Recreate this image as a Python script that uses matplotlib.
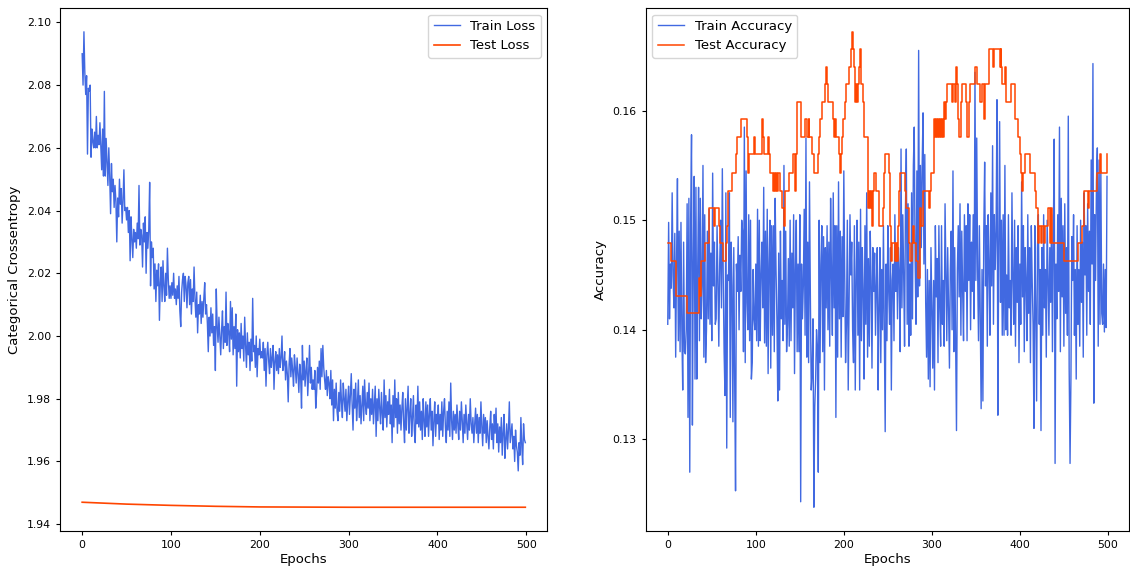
import matplotlib
matplotlib.use("Agg")
import matplotlib.pyplot as plt
import numpy as np

# ---------------- data ----------------
epochs = np.arange(500)

train_loss = [
    2.090, 2.080, 2.097, 2.084, 2.077, 2.083, 2.058, 2.079, 2.078, 2.080, 2.057, 2.066, 2.062, 2.060, 2.065, 2.060, 2.070, 2.060, 2.064, 2.061,
    2.068, 2.060, 2.053, 2.066, 2.051, 2.078, 2.051, 2.063, 2.055, 2.048, 2.060, 2.051, 2.039, 2.055, 2.046, 2.050, 2.041, 2.048, 2.043, 2.030,
    2.044, 2.038, 2.050, 2.042, 2.047, 2.036, 2.043, 2.053, 2.040, 2.041, 2.037, 2.041, 2.033, 2.040, 2.024, 2.038, 2.031, 2.025, 2.034, 2.030,
    2.033, 2.028, 2.036, 2.031, 2.048, 2.029, 2.034, 2.032, 2.022, 2.036, 2.030, 2.038, 2.020, 2.033, 2.028, 2.034, 2.049, 2.016, 2.030, 2.025,
    2.028, 2.015, 2.023, 2.011, 2.021, 2.016, 2.023, 2.005, 2.017, 2.022, 2.011, 2.024, 2.016, 2.011, 2.020, 2.013, 2.028, 2.018, 2.012, 2.016,
    2.012, 2.017, 2.013, 2.020, 2.012, 2.015, 2.010, 2.016, 2.012, 2.019, 2.008, 2.003, 2.014, 2.018, 2.020, 2.011, 2.019, 2.016, 2.009, 2.017,
    2.019, 2.010, 2.018, 2.007, 2.015, 2.011, 2.022, 2.012, 2.006, 2.014, 2.001, 2.010, 2.007, 2.013, 2.004, 2.011, 2.006, 2.012, 2.017, 2.007,
    2.010, 2.004, 1.995, 2.006, 2.000, 2.009, 2.001, 2.007, 1.997, 2.003, 1.989, 2.015, 2.003, 1.998, 2.006, 2.000, 1.994, 2.002, 2.008, 1.996,
    2.003, 1.998, 2.014, 1.997, 2.004, 2.001, 1.995, 2.011, 1.999, 2.009, 1.994, 2.003, 1.996, 2.007, 1.984, 2.002, 1.995, 2.001, 1.993, 2.004,
    1.996, 2.000, 1.992, 2.006, 1.997, 1.990, 2.001, 1.994, 1.998, 1.989, 1.999, 1.992, 2.012, 1.995, 1.997, 1.990, 2.000, 1.987, 1.996, 1.994,
    1.999, 1.993, 1.995, 1.993, 1.998, 1.989, 1.996, 1.984, 1.994, 1.998, 1.992, 1.988, 1.996, 1.990, 1.993, 1.997, 1.983, 1.992, 1.995, 1.989,
    1.994, 1.988, 1.996, 1.990, 1.993, 2.000, 1.989, 1.991, 1.995, 1.986, 1.992, 1.988, 1.979, 1.991, 1.996, 1.987, 1.993, 1.989, 1.984, 1.994,
    1.990, 1.985, 1.993, 1.988, 1.982, 1.991, 1.987, 1.977, 1.997, 1.986, 1.992, 1.984, 1.989, 1.993, 1.981, 1.988, 1.997, 1.985, 1.990, 1.983,
    1.986, 1.983, 1.989, 1.977, 1.982, 1.990, 1.985, 1.992, 1.983, 1.996, 1.987, 1.997, 1.990, 1.986, 1.983, 1.989, 1.981, 1.987, 1.985, 1.980,
    1.989, 1.978, 1.986, 1.973, 1.983, 1.977, 1.985, 1.976, 1.973, 1.982, 1.976, 1.986, 1.979, 1.974, 1.985, 1.980, 1.976, 1.983, 1.973, 1.979,
    1.984, 1.975, 1.981, 1.988, 1.978, 1.970, 1.983, 1.977, 1.985, 1.973, 1.979, 1.986, 1.974, 1.981, 1.972, 1.978, 1.984, 1.973, 1.986, 1.978,
    1.975, 1.982, 1.977, 1.985, 1.973, 1.980, 1.975, 1.983, 1.972, 1.978, 1.984, 1.968, 1.980, 1.973, 1.983, 1.977, 1.972, 1.982, 1.975, 1.970,
    1.986, 1.974, 1.981, 1.971, 1.979, 1.975, 1.983, 1.972, 1.978, 1.966, 1.981, 1.971, 1.986, 1.974, 1.980, 1.969, 1.982, 1.972, 1.978, 1.970,
    1.977, 1.982, 1.972, 1.966, 1.980, 1.970, 1.977, 1.984, 1.969, 1.975, 1.980, 1.968, 1.974, 1.981, 1.970, 1.966, 1.978, 1.972, 1.984, 1.971,
    1.979, 1.970, 1.976, 1.967, 1.980, 1.973, 1.968, 1.979, 1.971, 1.978, 1.968, 1.975, 1.980, 1.970, 1.976, 1.965, 1.973, 1.979, 1.968, 1.975,
    1.972, 1.978, 1.967, 1.975, 1.970, 1.979, 1.968, 1.976, 1.980, 1.971, 1.966, 1.976, 1.970, 1.979, 1.968, 1.985, 1.973, 1.967, 1.976, 1.970,
    1.975, 1.969, 1.978, 1.972, 1.967, 1.976, 1.970, 1.979, 1.973, 1.966, 1.975, 1.969, 1.978, 1.972, 1.967, 1.975, 1.970, 1.980, 1.972, 1.969,
    1.974, 1.966, 1.972, 1.977, 1.969, 1.975, 1.966, 1.974, 1.969, 1.979, 1.971, 1.965, 1.975, 1.969, 1.974, 1.966, 1.973, 1.968, 1.964, 1.971,
    1.976, 1.967, 1.972, 1.964, 1.975, 1.969, 1.977, 1.966, 1.972, 1.963, 1.971, 1.966, 1.974, 1.962, 1.969, 1.975, 1.961, 1.967, 1.972, 1.964,
    1.970, 1.979, 1.966, 1.969, 1.972, 1.964, 1.968, 1.960, 1.970, 1.965, 1.963, 1.957, 1.966, 1.962, 1.974, 1.965, 1.959, 1.972, 1.967, 1.966,
]

# test loss is a smooth curve, sampled at a few epochs
test_loss_epochs = [0, 25, 50, 75, 100, 150, 200, 250, 300, 350, 400, 450, 499]
test_loss = [1.9470, 1.9467, 1.9464, 1.9462, 1.9460, 1.9457, 1.9455, 1.94545,
             1.9454, 1.9454, 1.9454, 1.9454, 1.9454]

train_acc = [
    0.1405, 0.1498, 0.1410, 0.1460, 0.1438, 0.1525, 0.1450, 0.1420, 0.1488, 0.1375, 0.1462, 0.1538, 0.1390, 0.1490, 0.1380, 0.1498, 0.1400, 0.1345, 0.1480, 0.1380,
    0.1378, 0.1400, 0.1515, 0.1320, 0.1520, 0.1270, 0.1500, 0.1578, 0.1313, 0.1460, 0.1540, 0.1355, 0.1530, 0.1355, 0.1455, 0.1530, 0.1390, 0.1520, 0.1410, 0.1440,
    0.1550, 0.1375, 0.1505, 0.1370, 0.1400, 0.1490, 0.1410, 0.1510, 0.1405, 0.1470, 0.1390, 0.1543, 0.1440, 0.1480, 0.1405, 0.1410, 0.1495, 0.1445, 0.1385, 0.1460,
    0.1500, 0.1420, 0.1547, 0.1450, 0.1380, 0.1340, 0.1525, 0.1292, 0.1450, 0.1445, 0.1525, 0.1320, 0.1480, 0.1440, 0.1316, 0.1475, 0.1356, 0.1253, 0.1460, 0.1435,
    0.1485, 0.1400, 0.1468, 0.1435, 0.1500, 0.1490, 0.1380, 0.1585, 0.1370, 0.1545, 0.1425, 0.1400, 0.1505, 0.1390, 0.1500, 0.1355, 0.1370, 0.1455, 0.1410, 0.1400,
    0.1460, 0.1390, 0.1510, 0.1385, 0.1500, 0.1390, 0.1450, 0.1480, 0.1420, 0.1530, 0.1388, 0.1490, 0.1385, 0.1510, 0.1360, 0.1460, 0.1500, 0.1365, 0.1495, 0.1395,
    0.1495, 0.1380, 0.1520, 0.1455, 0.1410, 0.1335, 0.1470, 0.1345, 0.1490, 0.1410, 0.1445, 0.1390, 0.1550, 0.1405, 0.1490, 0.1380, 0.1405, 0.1465, 0.1385, 0.1500,
    0.1390, 0.1470, 0.1420, 0.1505, 0.1360, 0.1455, 0.1500, 0.1380, 0.1460, 0.1380, 0.1505, 0.1243, 0.1460, 0.1410, 0.1440, 0.1510, 0.1395, 0.1575, 0.1375, 0.1480,
    0.1370, 0.1535, 0.1430, 0.1345, 0.1360, 0.1410, 0.1238, 0.1330, 0.1355, 0.1400, 0.1385, 0.1270, 0.1500, 0.1370, 0.1460, 0.1495, 0.1380, 0.1485, 0.1345, 0.1475,
    0.1420, 0.1495, 0.1400, 0.1480, 0.1385, 0.1520, 0.1450, 0.1395, 0.1525, 0.1420, 0.1495, 0.1320, 0.1495, 0.1375, 0.1535, 0.1410, 0.1490, 0.1375, 0.1485, 0.1412,
    0.1545, 0.1450, 0.1370, 0.1405, 0.1500, 0.1345, 0.1430, 0.1505, 0.1450, 0.1480, 0.1400, 0.1370, 0.1495, 0.1345, 0.1445, 0.1500, 0.1395, 0.1480, 0.1345, 0.1510,
    0.1390, 0.1475, 0.1435, 0.1355, 0.1495, 0.1405, 0.1525, 0.1375, 0.1465, 0.1385, 0.1490, 0.1445, 0.1365, 0.1475, 0.1435, 0.1470, 0.1395, 0.1440, 0.1475, 0.1345,
    0.1420, 0.1475, 0.1370, 0.1455, 0.1400, 0.1495, 0.1405, 0.1307, 0.1460, 0.1390, 0.1495, 0.1435, 0.1405, 0.1475, 0.1345, 0.1445, 0.1460, 0.1390, 0.1505, 0.1435,
    0.1475, 0.1410, 0.1475, 0.1450, 0.1380, 0.1565, 0.1420, 0.1505, 0.1450, 0.1385, 0.1510, 0.1565, 0.1405, 0.1515, 0.1385, 0.1460, 0.1395, 0.1525, 0.1410, 0.1550,
    0.1585, 0.1465, 0.1405, 0.1545, 0.1430, 0.1655, 0.1440, 0.1550, 0.1475, 0.1550, 0.1598, 0.1460, 0.1560, 0.1425, 0.1375, 0.1455, 0.1355, 0.1445, 0.1348, 0.1475,
    0.1420, 0.1365, 0.1445, 0.1345, 0.1495, 0.1430, 0.1465, 0.1370, 0.1495, 0.1420, 0.1385, 0.1495, 0.1405, 0.1445, 0.1385, 0.1515, 0.1455, 0.1390, 0.1475, 0.1420,
    0.1365, 0.1455, 0.1490, 0.1400, 0.1545, 0.1380, 0.1475, 0.1395, 0.1308, 0.1455, 0.1495, 0.1430, 0.1515, 0.1395, 0.1490, 0.1435, 0.1390, 0.1505, 0.1435, 0.1495,
    0.1390, 0.1515, 0.1445, 0.1505, 0.1400, 0.1480, 0.1435, 0.1505, 0.1410, 0.1635, 0.1445, 0.1575, 0.1455, 0.1390, 0.1495, 0.1415, 0.1328, 0.1455, 0.1335, 0.1490,
    0.1553, 0.1440, 0.1495, 0.1385, 0.1505, 0.1460, 0.1395, 0.1525, 0.1440, 0.1568, 0.1405, 0.1505, 0.1455, 0.1490, 0.1610, 0.1322, 0.1475, 0.1590, 0.1425, 0.1500,
    0.1395, 0.1505, 0.1395, 0.1550, 0.1400, 0.1450, 0.1395, 0.1505, 0.1420, 0.1445, 0.1395, 0.1525, 0.1445, 0.1405, 0.1500, 0.1385, 0.1475, 0.1425, 0.1495, 0.1370,
    0.1460, 0.1405, 0.1535, 0.1430, 0.1495, 0.1380, 0.1475, 0.1445, 0.1390, 0.1505, 0.1415, 0.1475, 0.1370, 0.1495, 0.1445, 0.1405, 0.1310, 0.1495, 0.1420, 0.1335,
    0.1475, 0.1505, 0.1405, 0.1455, 0.1308, 0.1475, 0.1395, 0.1505, 0.1420, 0.1455, 0.1375, 0.1500, 0.1445, 0.1395, 0.1475, 0.1425, 0.1505, 0.1380, 0.1485, 0.1574,
    0.1278, 0.1460, 0.1410, 0.1505, 0.1435, 0.1585, 0.1380, 0.1520, 0.1430, 0.1495, 0.1385, 0.1515, 0.1415, 0.1475, 0.1395, 0.1595, 0.1365, 0.1278, 0.1355, 0.1485,
    0.1445, 0.1505, 0.1395, 0.1455, 0.1355, 0.1495, 0.1405, 0.1455, 0.1385, 0.1500, 0.1425, 0.1480, 0.1375, 0.1525, 0.1450, 0.1495, 0.1395, 0.1515, 0.1435, 0.1490,
    0.1405, 0.1555, 0.1460, 0.1643, 0.1333, 0.1505, 0.1445, 0.1535, 0.1566, 0.1385, 0.1555, 0.1405, 0.1545, 0.1415, 0.1405, 0.1460, 0.1398, 0.1455, 0.1402, 0.1540,
]

# test accuracy only takes a few discrete levels: epoch where each level starts + the level
test_acc_start = [
    0, 4, 9, 22, 35, 37, 38, 42, 47, 53, 54, 58, 59, 63, 66, 67, 68, 73, 78, 79,
    83, 90, 91, 92, 98, 99, 107, 108, 109, 114, 115, 116, 120, 121, 122, 123, 124, 125, 128, 130,
    132, 133, 138, 142, 145, 146, 147, 151, 156, 158, 160, 161, 164, 166, 171, 172, 173, 175, 179, 180,
    181, 182, 188, 189, 190, 191, 194, 196, 197, 198, 199, 201, 203, 206, 208, 209, 211, 212, 213, 214,
    215, 216, 217, 218, 219, 222, 223, 227, 228, 229, 230, 231, 232, 233, 234, 237, 240, 244, 246, 247,
    251, 252, 254, 255, 258, 259, 260, 261, 262, 263, 264, 270, 271, 274, 275, 277, 279, 280, 282, 284,
    286, 287, 288, 290, 297, 298, 299, 302, 303, 304, 305, 306, 307, 308, 309, 310, 311, 313, 314, 315,
    316, 317, 323, 324, 326, 327, 329, 330, 331, 333, 334, 339, 340, 342, 343, 349, 351, 355, 357, 359,
    360, 365, 370, 371, 377, 378, 379, 380, 383, 384, 390, 394, 395, 398, 400, 401, 402, 403, 406, 412,
    417, 418, 421, 422, 424, 425, 427, 428, 432, 434, 435, 436, 437, 450, 466, 471, 473, 477, 478, 488,
    491, 492, 499,
]
test_acc_value = [
    0.1479, 0.1463, 0.1431, 0.1415, 0.1447, 0.1431, 0.1463, 0.1479, 0.1511, 0.1495, 0.1511, 0.1495, 0.1479, 0.1463, 0.1479, 0.1495, 0.1527, 0.1543, 0.1560, 0.1576,
    0.1592, 0.1576, 0.1543, 0.1560, 0.1576, 0.1560, 0.1592, 0.1576, 0.1560, 0.1576, 0.1560, 0.1543, 0.1527, 0.1543, 0.1527, 0.1543, 0.1527, 0.1543, 0.1527, 0.1511,
    0.1495, 0.1527, 0.1543, 0.1560, 0.1527, 0.1560, 0.1608, 0.1576, 0.1592, 0.1576, 0.1592, 0.1576, 0.1560, 0.1543, 0.1560, 0.1576, 0.1592, 0.1608, 0.1624, 0.1640,
    0.1624, 0.1608, 0.1592, 0.1576, 0.1592, 0.1576, 0.1560, 0.1543, 0.1560, 0.1576, 0.1592, 0.1608, 0.1624, 0.1640, 0.1656, 0.1672, 0.1656, 0.1640, 0.1608, 0.1624,
    0.1608, 0.1624, 0.1640, 0.1656, 0.1624, 0.1608, 0.1576, 0.1543, 0.1511, 0.1527, 0.1511, 0.1527, 0.1495, 0.1527, 0.1543, 0.1527, 0.1495, 0.1511, 0.1543, 0.1560,
    0.1543, 0.1495, 0.1463, 0.1479, 0.1463, 0.1479, 0.1463, 0.1479, 0.1495, 0.1527, 0.1543, 0.1527, 0.1511, 0.1479, 0.1463, 0.1479, 0.1495, 0.1479, 0.1463, 0.1447,
    0.1495, 0.1511, 0.1495, 0.1527, 0.1511, 0.1527, 0.1543, 0.1560, 0.1592, 0.1576, 0.1592, 0.1576, 0.1592, 0.1576, 0.1592, 0.1576, 0.1592, 0.1576, 0.1608, 0.1592,
    0.1608, 0.1624, 0.1608, 0.1624, 0.1608, 0.1640, 0.1624, 0.1592, 0.1576, 0.1608, 0.1624, 0.1608, 0.1576, 0.1608, 0.1624, 0.1640, 0.1624, 0.1608, 0.1624, 0.1592,
    0.1624, 0.1656, 0.1640, 0.1656, 0.1640, 0.1656, 0.1640, 0.1624, 0.1640, 0.1608, 0.1624, 0.1608, 0.1592, 0.1576, 0.1560, 0.1543, 0.1527, 0.1543, 0.1560, 0.1543,
    0.1527, 0.1511, 0.1479, 0.1495, 0.1479, 0.1495, 0.1479, 0.1495, 0.1511, 0.1479, 0.1511, 0.1495, 0.1479, 0.1463, 0.1479, 0.1495, 0.1527, 0.1511, 0.1527, 0.1543,
    0.1560, 0.1543, 0.1560,
]

train_color = "royalblue"
test_color = "orangered"

# ---------------- figure ----------------
fig = plt.figure(figsize=(11.3, 5.68), dpi=100)
ax1 = fig.add_axes([0.0531, 0.0651, 0.4314, 0.9208])
ax2 = fig.add_axes([0.5715, 0.0651, 0.4276, 0.9208])

# left: loss
ax1.plot(epochs, train_loss, color=train_color, lw=1.0, label="Train Loss")
ax1.plot(test_loss_epochs, test_loss, color=test_color, lw=1.2, label="Test Loss")
ax1.set_xlabel("Epochs", fontsize=9.5, labelpad=2)
ax1.set_ylabel("Categorical Crossentropy", fontsize=9.5)
ax1.legend(loc="upper right", fontsize=9.5)

# right: accuracy
ax2.plot(epochs, train_acc, color=train_color, lw=1.0, label="Train Accuracy")
ax2.plot(test_acc_start, test_acc_value, color=test_color, lw=1.1,
         drawstyle="steps-post", label="Test Accuracy")
ax2.set_xlabel("Epochs", fontsize=9.5, labelpad=2)
ax2.set_ylabel("Accuracy", fontsize=9.5)
ax2.set_yticks([0.13, 0.14, 0.15, 0.16])
ax2.legend(loc="upper left", fontsize=9.5)

for ax in (ax1, ax2):
    ax.tick_params(labelsize=7.8, length=3)

fig.savefig("out.png", dpi=100)
